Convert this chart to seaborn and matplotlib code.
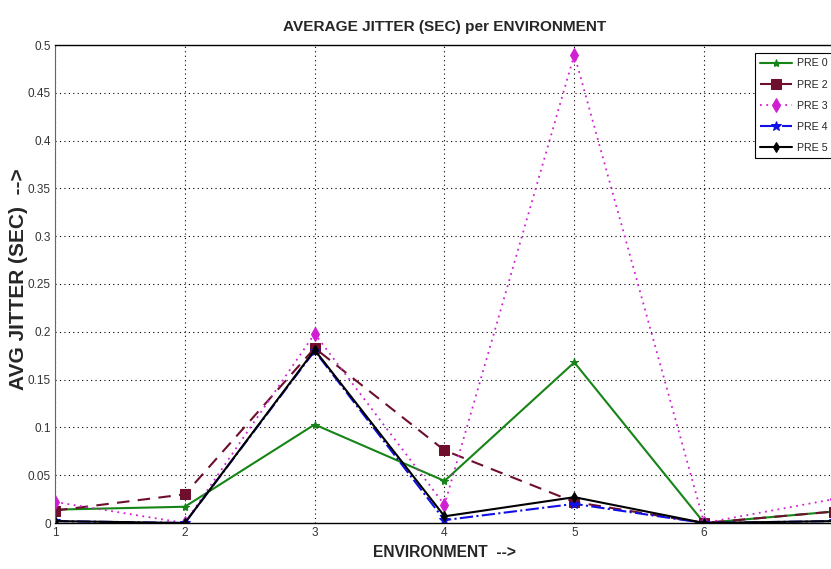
import matplotlib
matplotlib.use("Agg")
import matplotlib.pyplot as plt
from matplotlib import font_manager
import seaborn as sns
import pandas as pd

environments = [1, 2, 3, 4, 5, 6, 7]
pre0 = [0.014, 0.017, 0.103, 0.044, 0.168, 0.000, 0.012]
pre2 = [0.013, 0.030, 0.183, 0.076, 0.022, 0.000, 0.012]
pre3 = [0.022, 0.000, 0.198, 0.019, 0.490, 0.000, 0.025]
pre4 = [0.002, 0.000, 0.180, 0.003, 0.020, 0.000, 0.002]
pre5 = [0.002, 0.000, 0.181, 0.007, 0.027, 0.000, 0.002]
series_names = ["PRE 0", "PRE 2", "PRE 3", "PRE 4", "PRE 5"]
x_ticks = [1, 2, 3, 4, 5, 6]
y_ticks = [0, 0.05, 0.1, 0.15, 0.2, 0.25, 0.3, 0.35, 0.4, 0.45, 0.5]
y_tick_labels = ["0", "0.05", "0.1", "0.15", "0.2", "0.25", "0.3", "0.35", "0.4", "0.45", "0.5"]

sns.set_style("white")
plt.rcParams['font.family'] = ['Liberation Sans', 'DejaVu Sans']

names = {f.name for f in font_manager.fontManager.ttflist}
has_narrow = "Liberation Sans Narrow" in names
narrow = ["Liberation Sans Narrow", "Liberation Sans"] if has_narrow else ["Liberation Sans"]
nscale = 1.0 if has_narrow else 0.85

fig = plt.figure(figsize=(8.31, 5.69), dpi=100)
ax = fig.add_axes([55/831, 46/569, 779/831, 478/569])

styles = [
    dict(color="#168416", linestyle="-", marker="*", markersize=6, linewidth=1.5),
    dict(color="#6e0f2e", linestyle=(0, (6, 4)), marker="s", markersize=6.5, linewidth=1.5),
    dict(color="#d21ed2", linestyle=(0, (1, 2.5)), marker="d", markersize=7, linewidth=1.3),
    dict(color="#1010e6", linestyle="-.", marker="*", markersize=7, linewidth=1.5),
    dict(color="#000000", linestyle="-", marker="d", markersize=5.5, linewidth=1.5),
]
for name, vals, st in zip(series_names, [pre0, pre2, pre3, pre4, pre5], styles):
    df = pd.DataFrame({"env": environments, "jitter": vals})
    sns.lineplot(data=df, x="env", y="jitter", ax=ax, label=name,
                 color=st["color"], linestyle=st["linestyle"], marker=st["marker"],
                 markersize=st["markersize"], linewidth=st["linewidth"],
                 markeredgecolor=st["color"], markerfacecolor=st["color"])

ax.set_xlim(1, 7)
ax.set_ylim(0, 0.5)
ax.set_xticks(x_ticks)
ax.set_xticklabels([str(t) for t in x_ticks])
ax.set_yticks(y_ticks)
ax.set_yticklabels(y_tick_labels)
ax.grid(True, color="black", linestyle=(0, (1, 3)), linewidth=0.8)
ax.tick_params(direction="in", length=4, labelsize=10 * nscale, colors="#333333", pad=3)
for lab in ax.get_xticklabels() + ax.get_yticklabels():
    lab.set_family(narrow)
for s in ["top", "bottom"]:
    ax.spines[s].set_color("black")
    ax.spines[s].set_linewidth(1.0)
ax.spines["left"].set_color("#666666")
ax.spines["right"].set_visible(False)

ax.set_xlabel("ENVIRONMENT  -->", fontsize=13.2 * nscale, fontweight="bold", family=narrow)
ax.xaxis.set_label_coords(0.5, -0.046)
ax.set_ylabel("AVG JITTER (SEC)  -->", fontsize=15, fontweight="bold")
ax.yaxis.set_label_coords(-0.035, 0.51)
ax.set_title("AVERAGE JITTER (SEC) per ENVIRONMENT", fontsize=13 * nscale, fontweight="bold",
             family=narrow, pad=10)

leg = ax.legend(loc="upper right", bbox_to_anchor=(1.006, 0.994),
                prop={"family": narrow, "size": 9 * nscale},
                frameon=True, fancybox=False, edgecolor="black", framealpha=1,
                handlelength=3, borderpad=0.5, labelspacing=1.05, handletextpad=0.5)
leg.get_frame().set_linewidth(0.8)

fig.savefig("out.png", dpi=100)
